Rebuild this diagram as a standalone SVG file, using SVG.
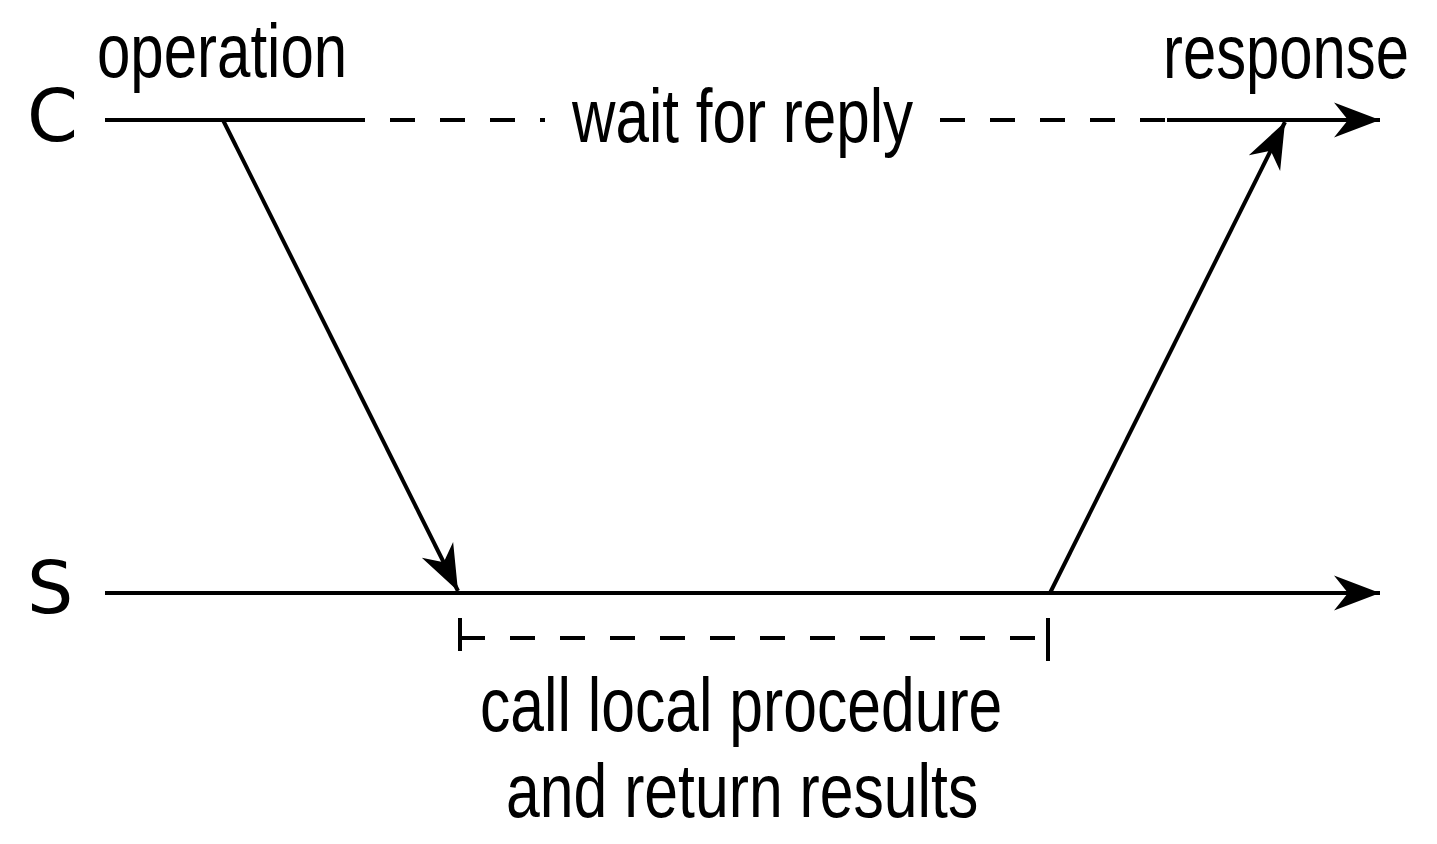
<svg xmlns="http://www.w3.org/2000/svg" width="1437" height="844" viewBox="0 0 1437 844">
<style>
.ln{stroke:#000;stroke-width:4;fill:none}
.ds{stroke:#000;stroke-width:4;fill:none;stroke-dasharray:25 25}
.lbl{font-family:"Liberation Sans",Arial,sans-serif;font-size:76px;fill:#000}
.big{font-family:"DejaVu Sans",sans-serif;font-size:73px;fill:#000}
</style>
<defs>
<marker id="ah" markerUnits="userSpaceOnUse" markerWidth="50" markerHeight="40" viewBox="-48 -20 50 40" refX="0" refY="0" orient="auto" overflow="visible">
<path d="M0,0 L-46,-17.5 L-32,0 L-46,17.5 Z" fill="#000"/>
</marker>
</defs>
<rect width="1437" height="844" fill="#fff"/>
<g id="client">
<text class="big" x="27" y="141">C</text>
<text class="lbl" transform="translate(97,77) scale(0.82,1)" x="0" y="0" textLength="305" lengthAdjust="spacingAndGlyphs">operation</text>
<text class="lbl" transform="translate(1163,78) scale(0.82,1)" x="0" y="0" textLength="300" lengthAdjust="spacingAndGlyphs">response</text>
<text class="lbl" transform="translate(572,142) scale(0.82,1)" x="0" y="0" textLength="416" lengthAdjust="spacingAndGlyphs">wait for reply</text>
</g>
<g id="server">
<text class="big" x="27" y="613">S</text>
<text class="lbl" transform="translate(480,731) scale(0.82,1)" x="0" y="0" textLength="637" lengthAdjust="spacingAndGlyphs">call local procedure</text>
<text class="lbl" transform="translate(506,817) scale(0.82,1)" x="0" y="0" textLength="576" lengthAdjust="spacingAndGlyphs">and return results</text>
</g>
<g id="connectors">
<line class="ln" x1="105" y1="120" x2="365" y2="120"/>
<line class="ds" x1="390" y1="120" x2="545" y2="120"/>
<line class="ds" x1="940" y1="120" x2="1165" y2="120"/>
<line class="ln" x1="1167" y1="120" x2="1380" y2="120" marker-end="url(#ah)"/>
<line class="ln" x1="105" y1="593" x2="1380" y2="593" marker-end="url(#ah)"/>
<line class="ln" x1="223" y1="120" x2="458" y2="591" marker-end="url(#ah)"/>
<line class="ln" x1="1050" y1="593" x2="1285" y2="122" marker-end="url(#ah)"/>
<line class="ln" x1="460" y1="618" x2="460" y2="651"/>
<line class="ln" x1="1048" y1="618" x2="1048" y2="661"/>
<line class="ds" x1="460" y1="638" x2="1048" y2="638"/>
</g>
</svg>
